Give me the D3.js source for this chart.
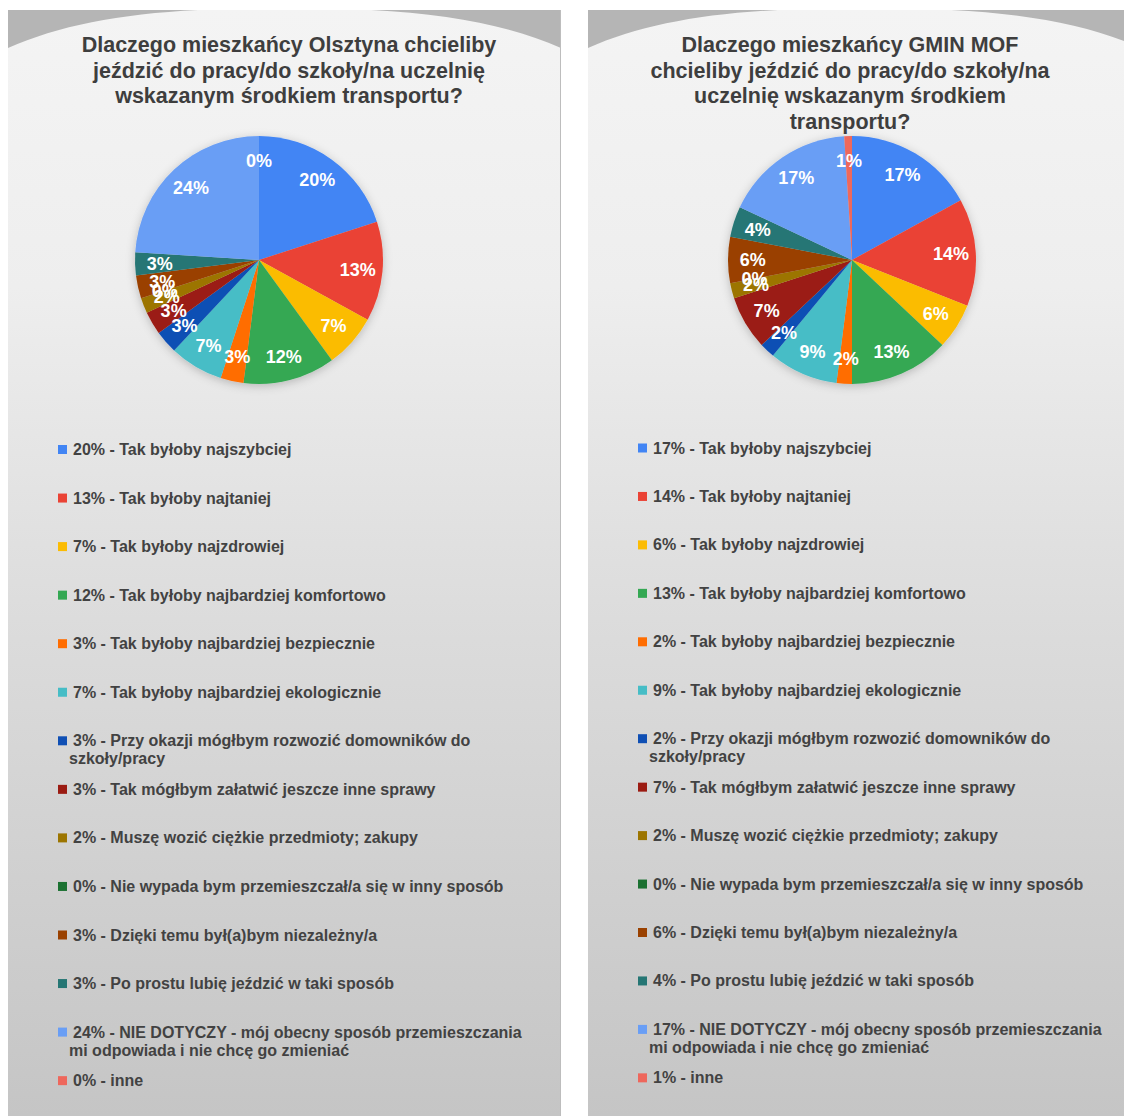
<!DOCTYPE html>
<html>
<head>
<meta charset="utf-8">
<script src="https://cdn.jsdelivr.net/npm/d3@7"></script>
<style>
  body { margin: 0; background: #fff; }
  text { font-family: "Liberation Sans", Arial, sans-serif; }
</style>
</head>
<body>
<svg id="chart"></svg>
<script>
// reasons, in slice order (clockwise from 12 o'clock)
const reasons = [
  "Tak byłoby najszybciej",
  "Tak byłoby najtaniej",
  "Tak byłoby najzdrowiej",
  "Tak byłoby najbardziej komfortowo",
  "Tak byłoby najbardziej bezpiecznie",
  "Tak byłoby najbardziej ekologicznie",
  "Przy okazji mógłbym rozwozić domowników do szkoły/pracy",
  "Tak mógłbym załatwić jeszcze inne sprawy",
  "Muszę wozić ciężkie przedmioty; zakupy",
  "Nie wypada bym przemieszczał/a się w inny sposób",
  "Dzięki temu był(a)bym niezależny/a",
  "Po prostu lubię jeździć w taki sposób",
  "NIE DOTYCZY - mój obecny sposób przemieszczania mi odpowiada i nie chcę go zmieniać",
  "inne"
];
const sliceColors = [
  "#4285f4", "#ea4335", "#fbbc04", "#34a853", "#ff6d01", "#46bdc6",
  "#0f4fb4", "#9b1b12", "#9c7500", "#1b7131", "#9a4100", "#257674",
  "#699ef5", "#ee675c"
];
const olsztynPct = [20, 13, 7, 12, 3, 7, 3, 3, 2, 0, 3, 3, 24, 0];
const mofPct = [17, 14, 6, 13, 2, 9, 2, 7, 2, 0, 6, 4, 17, 1];

const titleOlsztyn = [
  "Dlaczego mieszkańcy Olsztyna chcieliby",
  "jeździć do pracy/do szkoły/na uczelnię",
  "wskazanym środkiem transportu?"
];
const titleMof = [
  "Dlaczego mieszkańcy GMIN MOF",
  "chcieliby jeździć do pracy/do szkoły/na",
  "uczelnię wskazanym środkiem",
  "transportu?"
];

const W = 1124, H = 1116;
const svg = d3.select("#chart").attr("width", W).attr("height", H);

const defs = svg.append("defs");
const bg = defs.append("linearGradient").attr("id", "panelBg")
  .attr("x1", 0).attr("y1", 0).attr("x2", 0).attr("y2", 1);
bg.append("stop").attr("offset", "0%").attr("stop-color", "#f4f4f4");
bg.append("stop").attr("offset", "25%").attr("stop-color", "#eeeeee");
bg.append("stop").attr("offset", "55%").attr("stop-color", "#dcdcdc");
bg.append("stop").attr("offset", "100%").attr("stop-color", "#c5c5c5");
const shadow = defs.append("filter").attr("id", "pieShadow")
  .attr("x", "-20%").attr("y", "-20%").attr("width", "140%").attr("height", "140%");
shadow.append("feDropShadow").attr("dx", 0).attr("dy", 2)
  .attr("stdDeviation", 5).attr("flood-color", "#000").attr("flood-opacity", 0.22);

// split a legend entry into lines no wider than maxW
function wrap(textSel, str, maxW, x1, x2, lh) {
  const words = str.split(" ");
  let line = [], lines = [];
  const probe = textSel.append("tspan");
  for (const w of words) {
    line.push(w);
    probe.text(line.join(" "));
    if (probe.node().getComputedTextLength() > maxW && line.length > 1) {
      line.pop();
      lines.push(line.join(" "));
      line = [w];
    }
  }
  lines.push(line.join(" "));
  probe.remove();
  lines.forEach((l, i) => {
    const ts = textSel.append("tspan").attr("x", i == 0 ? x1 : x2).text(l);
    if (i > 0) ts.attr("dy", lh);
  });
}

function drawPanel(x0, width, values, title, titleX, pieCx, legendTop, legendStep) {
  const g = svg.append("g");
  const y0 = 10;
  // background + darker corners above the arc
  g.append("rect").attr("x", x0).attr("y", y0).attr("width", width).attr("height", H - y0)
    .attr("fill", "url(#panelBg)");
  const x1 = x0 + width;
  g.append("path")
    .attr("d", `M${x0},${y0} L${x0},${y0 + 38} C${x0 + 50},${y0 + 16} ${x0 + 110},${y0 + 4} ${x0 + 190},${y0}
                L${x1 - 190},${y0} C${x1 - 110},${y0 + 4} ${x1 - 50},${y0 + 16} ${x1},${y0 + 38} L${x1},${y0} Z`)
    .attr("fill", "#b5b5b5");
  g.append("line").attr("x1", x1 - 0.5).attr("x2", x1 - 0.5).attr("y1", y0).attr("y2", H)
    .attr("stroke", "#bdbdbd");

  // title
  const t = g.append("text").attr("text-anchor", "middle").attr("fill", "#3e3e3e")
    .attr("font-size", 21.5).attr("font-weight", "bold");
  title.forEach((l, i) => t.append("tspan").attr("x", titleX).attr("y", 52 + i * 25.5).text(l));

  // pie
  const r = 124, cy = 260;
  const pie = d3.pie().sort(null).value(d => d)(values);
  const arc = d3.arc().innerRadius(0).outerRadius(r);
  const labelArc = d3.arc().innerRadius(r * 0.8).outerRadius(r * 0.8);
  const pg = g.append("g").attr("transform", `translate(${pieCx},${cy})`);
  pg.append("g").attr("filter", "url(#pieShadow)")
    .selectAll("path").data(pie).join("path")
    .attr("d", arc).attr("fill", (d, i) => sliceColors[i]);
  pg.selectAll("text").data(pie).join("text")
    .attr("transform", d => `translate(${labelArc.centroid(d)})`)
    .attr("text-anchor", "middle").attr("dy", "0.36em")
    .attr("fill", "#fff").attr("font-size", 18).attr("font-weight", "bold")
    .text(d => d.data + "%");

  // legend
  const lx = x0 + 50;
  const ly = d3.scaleLinear().domain([0, 1]).range([legendTop, legendTop + legendStep]);
  const lg = g.append("g");
  reasons.forEach((name, i) => {
    const y = ly(i);
    lg.append("rect").attr("x", lx).attr("y", y - 4).attr("width", 9).attr("height", 9)
      .attr("fill", sliceColors[i]);
    const tx = lg.append("text").attr("y", y + 6)
      .attr("fill", "#424242").attr("font-size", 16).attr("font-weight", "bold");
    wrap(tx, `${values[i]}% - ${name}`, 455, lx + 15, lx + 11, 18);
  });
}

drawPanel(8, 553, olsztynPct, titleOlsztyn, 289, 259, 449, 48.55);
drawPanel(588, 553, mofPct, titleMof, 850, 852, 447.5, 48.45);
</script>
</body>
</html>
